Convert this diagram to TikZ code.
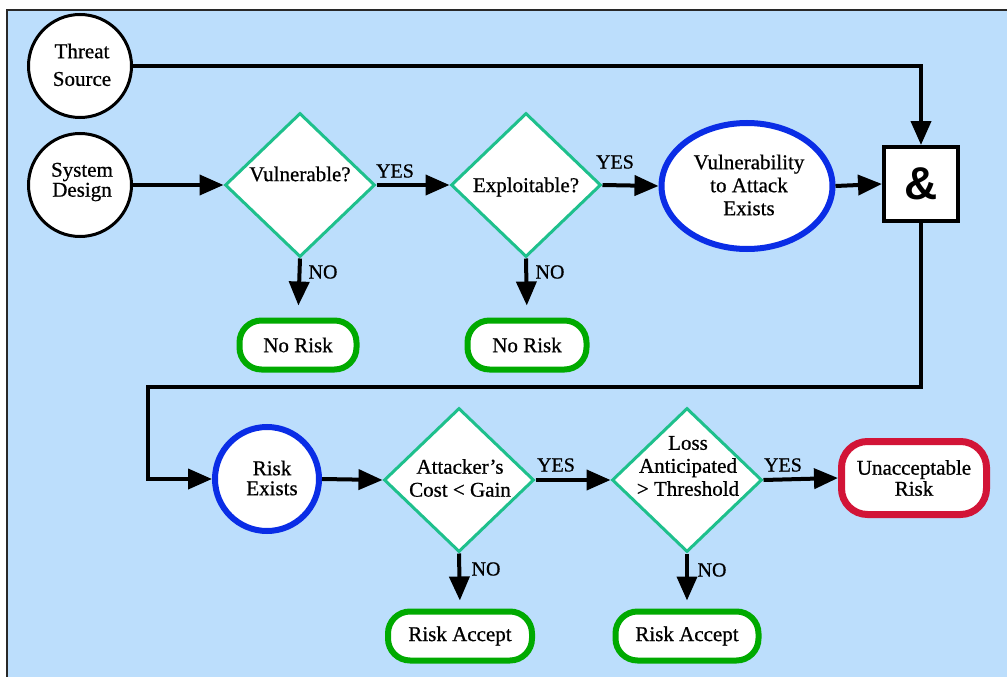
\documentclass[tikz,border=0pt]{standalone}
\usepackage{fontspec}
\setmainfont{Liberation Serif}
\newfontfamily\chartserif[FakeBold=0.7]{Liberation Serif}
\newfontfamily\ampfont{Liberation Sans}
\usetikzlibrary{arrows.meta,shapes.geometric}

\definecolor{panelblue}{RGB}{188,222,252}
\definecolor{framegray}{RGB}{40,40,40}
\definecolor{decgreen}{RGB}{30,192,140}
\definecolor{okgreen}{RGB}{0,170,0}
\definecolor{riskblue}{RGB}{10,45,230}
\definecolor{alarmred}{RGB}{210,20,55}

\begin{document}
\begin{tikzpicture}[x=1pt,y=-1pt,
  every node/.style={font=\chartserif\fontsize{21}{23}\selectfont, align=center, inner sep=0pt},
  conn/.style={line width=4pt, line join=miter, -{Triangle[length=24pt,width=20pt]}},
  tag/.style={font=\chartserif\fontsize{20}{22}\selectfont},
  source/.style={circle, draw=black, line width=3pt, fill=white, minimum size=103pt},
  decision/.style={diamond, draw=decgreen, line width=3pt, fill=white,
                   minimum width=150pt, minimum height=144pt},
  state/.style={draw=riskblue, line width=6pt, fill=white},
  outcome/.style={rectangle, rounded corners=22pt, draw=okgreen, line width=6pt,
                  fill=white, minimum height=49pt},
  gate/.style={rectangle, draw=black, line width=4pt, fill=white, minimum size=74pt,
               font=\ampfont\bfseries\fontsize{46}{46}\selectfont}
]
% canvas and panel
\useasboundingbox (0,0) rectangle (1007,677);
\fill[white] (0,0) rectangle (1007,677);
\fill[panelblue] (7,10) rectangle (1007,677);
\draw[framegray, line width=2pt] (7,677) -- (7,10) -- (1007,10);

% first row
\node[source] (ts) at (80,66) {};
\node at (82,51) {Threat};
\node at (82,79) {Source};
\node[source] (sd) at (80,185) {};
\node at (82,182) {System\\[-3pt]Design};

\node[decision] (vul) at (300,185) {};
\node at (300,174) {Vulnerable?};
\node[decision] (exp) at (526,185) {};
\node at (526,187) {Exploitable?};

\node[state, ellipse, minimum width=171pt, minimum height=126pt] (vae) at (747,186) {};
\node at (749,185) {Vulnerability\\to Attack\\Exists};

\node[gate] (amp) at (921,184) {\&};

\node[outcome, minimum width=117pt] (nr1) at (298,345) {No Risk};
\node[outcome, minimum width=119pt] (nr2) at (527,345) {No Risk};

% second row
\node[state, circle, minimum size=104pt] (rex) at (267,479) {};
\node at (272,478) {Risk\\[-3pt]Exists};

\node[decision] (cost) at (459,480) {};
\node at (460,478) {Attacker’s\\Cost < Gain};
\node[decision] (loss) at (687,480) {};
\node at (688,466) {Loss\\Anticipated\\> Threshold};

\node[rectangle, rounded corners=26pt, draw=alarmred, line width=7pt, fill=white,
      minimum width=145pt, minimum height=73pt] (ur) at (914,478)
      {Unacceptable\\[-2pt]Risk};

\node[outcome, minimum width=144pt] (ra1) at (460,636) {Risk Accept};
\node[outcome, minimum width=143pt] (ra2) at (687,636) {Risk Accept};

% bend point of the long return line
\coordinate (turn) at (148,387);

% connectors
\draw[conn] (ts.east) -| (amp.north);
\draw[conn] (sd.east) -- (vul.west);
\draw[conn] (vul.east) -- (exp.west);
\draw[conn] (exp.east) -- (vae.west);
\draw[conn] (vae.east) -- (amp.west);
\draw[conn, shorten >=12pt] (vul.south) -- (nr1.north);
\draw[conn, shorten >=12pt] (exp.south) -- (nr2.north);
\draw[conn] (amp.south) |- (turn) |- (rex.west);
\draw[conn] (rex.east) -- (cost.west);
\draw[conn] (cost.east) -- (loss.west);
\draw[conn] (loss.east) -- (ur.west);
\draw[conn, shorten >=8pt] (cost.south) -- (ra1.north);
\draw[conn, shorten >=8pt] (loss.south) -- (ra2.north);

% branch labels
\node[tag] at (395,171) {YES};
\node[tag] at (615,162) {YES};
\node[tag] at (323,272) {NO};
\node[tag] at (550,272) {NO};
\node[tag] at (556,465) {YES};
\node[tag] at (783,465) {YES};
\node[tag] at (486,569) {NO};
\node[tag] at (712,570) {NO};
\end{tikzpicture}
\end{document}
